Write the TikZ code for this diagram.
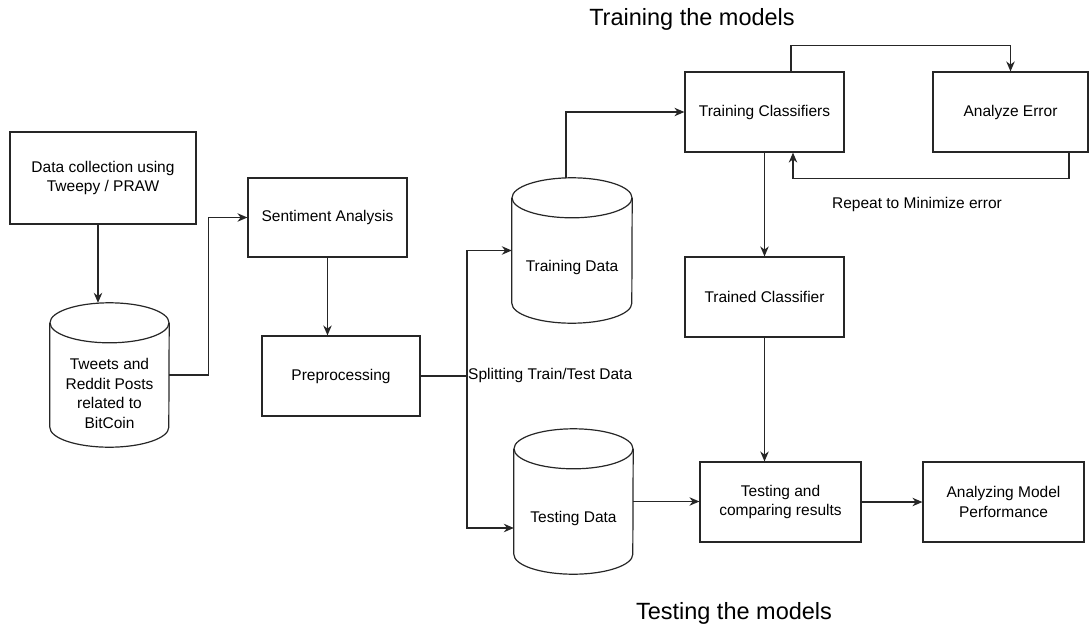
\documentclass[tikz,border=0pt]{standalone}
\usepackage{fontspec}
\setmainfont{Liberation Sans}
\usetikzlibrary{arrows.meta,calc}
\tikzset{
  ln/.style={line width=1.2pt, draw=black!85},
  arr/.style={ln, -{Stealth[length=10pt,width=8.5pt]}},
  box/.style={ln, rectangle, inner sep=0pt, align=center, minimum width=159pt, minimum height=80pt,
              font=\fontsize{15.5}{19.5}\selectfont},
  cylbox/.style={rectangle, inner sep=0pt, minimum width=#1, minimum height=145pt},
  txt/.style={inner sep=0pt, align=center, font=\fontsize{15.5}{19.5}\selectfont},
  title/.style={inner sep=0pt, font=\fontsize{23.5}{28}\selectfont},
}
\newcommand\drawcyl[2]{%
  \draw[ln] ([yshift=-20pt]#1.north) ellipse[x radius=#2, y radius=20pt];
  \draw[ln] ([yshift=-20pt]#1.north west) -- ([yshift=20pt]#1.south west)
    arc[start angle=180, end angle=360, x radius=#2, y radius=20pt]
    -- ([yshift=-20pt]#1.north east);
}
\begin{document}
\begin{tikzpicture}[x=1pt,y=-1pt]
\useasboundingbox (0,0) rectangle (1089,632);

% titles
\node[title] (ttrain) at (692,19) {Training the models};
\node[title] (ttest) at (734,613) {Testing the models};

% boxes
\node[box, minimum width=186pt, minimum height=92pt] (dc) at (103,178) {Data collection using\\Tweepy / PRAW};
\node[box, minimum height=79pt] (sa) at (327.5,217.5) {Sentiment Analysis};
\node[box, minimum width=158pt] (pp) at (341,376) {Preprocessing};
\node[box] (tc) at (764.5,112) {Training Classifiers};
\node[box, minimum width=155pt] (ae) at (1010.5,112) {Analyze Error};
\node[box] (tcl) at (764.5,297) {Trained Classifier};
\node[box, minimum width=161pt] (tr) at (780.5,502) {Testing and\\comparing results};
\node[box, minimum width=161pt] (am) at (1003.5,502) {Analyzing Model\\Performance};

% cylinders
\node[cylbox=119pt, minimum height=144pt] (tw) at (109.5,375) {};
\drawcyl{tw}{59.5pt}
\node[txt] (twt) at (109.5,393.5) {Tweets and\\Reddit Posts\\related to\\BitCoin};
\node[cylbox=120pt] (trd) at (572,250.5) {};
\drawcyl{trd}{60pt}
\node[txt] (trdt) at (572,267) {Training Data};
\node[cylbox=119pt] (ted) at (573.5,501.5) {};
\drawcyl{ted}{59.5pt}
\node[txt] (tedt) at (573.5,518) {Testing Data};

% labels
\node[txt, anchor=west] (split) at (468,375) {Splitting Train/Test Data};
\node[txt] (rep) at (917,204) {Repeat to Minimize error};

% connectors
\draw[arr] ([xshift=-5pt]dc.south) -- ([xshift=-5pt]dc.south |- tw.north);
\draw[arr] (tw.east) -- ++(39,0) |- (sa.west);
\draw[arr] (sa.south) -- (sa.south |- pp.north);
\coordinate (sp) at (467,376);
\draw[ln] (pp.east) -- (sp);
\draw[arr] (sp) |- (trd.west);
\draw[arr] (sp) |- ([yshift=-26.5pt]ted.west);
\draw[arr] ([xshift=-6pt]trd.north) |- (tc.west);
\draw[arr] ([xshift=26.5pt]tc.north) -- ++(0,-26) -| (ae.north);
\draw[arr] ([xshift=58.5pt]ae.south) -- ++(0,26) -| ([xshift=28.5pt]tc.south);
\draw[arr] (tc.south) -- (tcl.north);
\draw[arr] (tcl.south) -- (tcl.south |- tr.north);
\draw[arr] (ted.east) -- (ted.east -| tr.west);
\draw[arr] (tr.east) -- (am.west);
\end{tikzpicture}
\end{document}
